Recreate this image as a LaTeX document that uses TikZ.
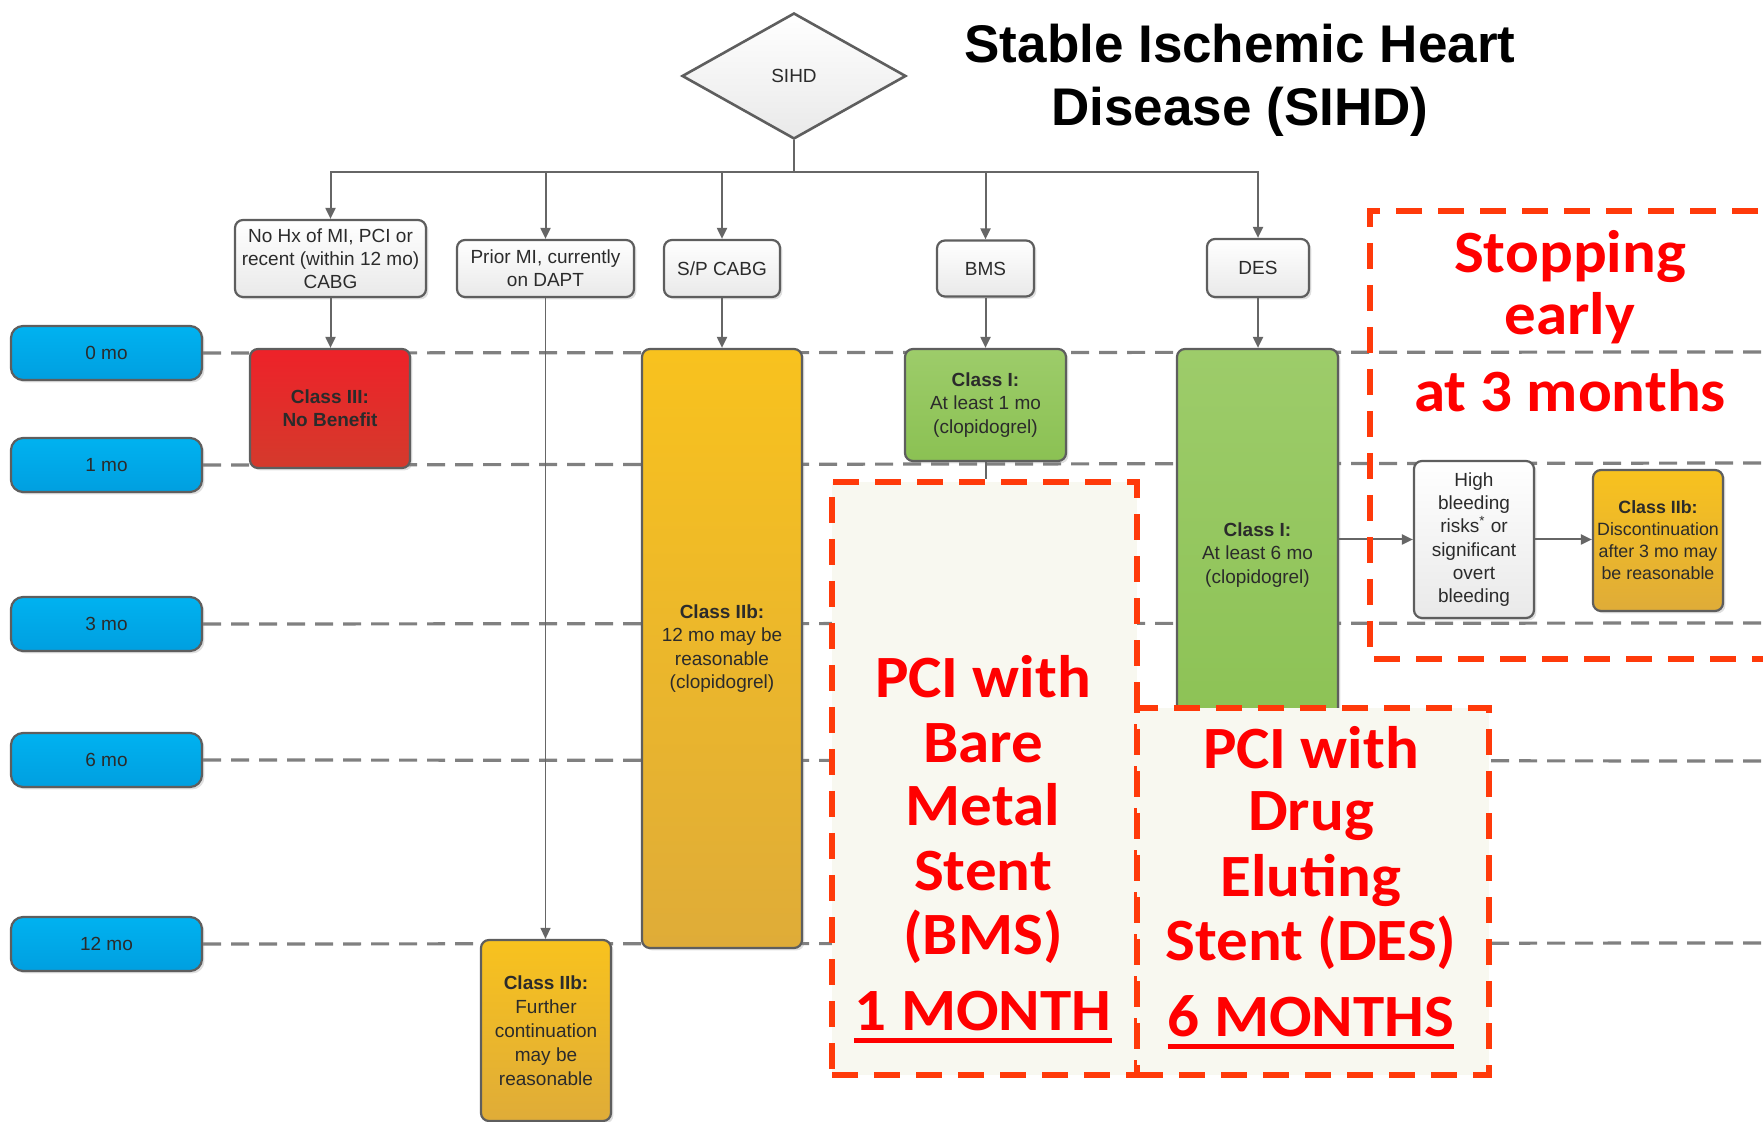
\documentclass[tikz,border=0pt]{standalone}
\usepackage{fontspec}
\setmainfont{Liberation Sans}
\newfontfamily\redfont[FakeStretch=1.05]{Carlito}
\usetikzlibrary{arrows.meta,shapes.geometric,shadows}
\definecolor{bord}{HTML}{5E5E5E}
\definecolor{txt}{HTML}{2B2B2B}
\definecolor{wbot}{HTML}{E9E9E9}
\definecolor{redtop}{HTML}{EE2229}
\definecolor{redbot}{HTML}{D43A2C}
\definecolor{yeltop}{HTML}{F8C21E}
\definecolor{yelbot}{HTML}{DFAC38}
\definecolor{grntop}{HTML}{9DCC6A}
\definecolor{grnbot}{HTML}{8BC153}
\definecolor{bluetop}{HTML}{00B2F0}
\definecolor{bluebot}{HTML}{009FE0}
\definecolor{gline}{HTML}{808080}
\definecolor{rdash}{HTML}{FF3A0A}
\definecolor{redtxt}{HTML}{FF0000}
\definecolor{pcifill}{HTML}{F8F8F0}
\definecolor{conn}{HTML}{666666}
\begin{document}
\begin{tikzpicture}[x=0.5pt,y=-0.5pt,
  box/.style={draw=bord, line width=1.1pt, rounded corners=4pt, inner sep=1pt,
    align=center, font=\fontsize{9.5}{11.6}\selectfont, text=txt,
    drop shadow={shadow xshift=1.2pt, shadow yshift=-1.2pt, opacity=0.25}},
  wbox/.style={box, top color=white, bottom color=wbot},
  rbox/.style={box, top color=redtop, bottom color=redbot},
  ybox/.style={box, top color=yeltop, bottom color=yelbot},
  gbox/.style={box, top color=grntop, bottom color=grnbot},
  tbox/.style={box, rounded corners=6pt, top color=bluetop, bottom color=bluebot,
    minimum width=95.5pt, minimum height=27pt},
  gdash/.style={draw=gline, line width=1.6pt, dash pattern=on 9pt off 5pt},
  rdashed/.style={draw=rdash, line width=2.6pt, dash pattern=on 13pt off 8pt},
  pcibox/.style={rdashed, fill=pcifill, inner sep=0pt},
  cline/.style={draw=conn, line width=1pt},
  arr/.style={cline, -{Triangle[length=5.5pt,width=5pt]}},
  rtxt/.style={anchor=base, text=redtxt, inner sep=0pt,
    font=\redfont\bfseries\fontsize{30}{32}\selectfont},
  uline/.style={draw=redtxt, line width=2.5pt}
]
\useasboundingbox (0,0) rectangle (1763,1122);
\clip (0,0) rectangle (1763,1122);

% title
\node[font=\bfseries\fontsize{26.5}{31.5}\selectfont, align=center, text=black]
  (title) at (1240,80) {Stable Ischemic Heart\\Disease (SIHD)};

% timeline labels
\node[tbox] (t0) at (106.5,353) {0 mo};
\node[tbox] (t1) at (106.5,465) {1 mo};
\node[tbox] (t3) at (106.5,624) {3 mo};
\node[tbox] (t6) at (106.5,760) {6 mo};
\node[tbox] (t12) at (106.5,944) {12 mo};
\coordinate (e0) at (1763,352);
\coordinate (e1) at (1763,463);
\coordinate (e3) at (1763,623);
\coordinate (e6) at (1763,761);
\coordinate (e12) at (1763,943);
\draw[gdash] (t0.east) -- (e0);
\draw[gdash] (t1.east) -- (e1);
\draw[gdash] (t3.east) -- (e3);
\draw[gdash] (t6.east) -- (e6);
\draw[gdash] (t12.east) -- (e12);

% diamond
\node[diamond, draw=bord, line width=1.3pt, top color=white, bottom color=wbot,
  minimum width=112pt, minimum height=63pt, inner sep=0pt,
  font=\fontsize{9.5}{11}\selectfont, text=txt] (sihd) at (794,76) {SIHD};

% category boxes
\node[wbox, minimum width=95.5pt, minimum height=38.5pt] (nohx) at (330.5,258.5)
  {No Hx of MI, PCI or\\recent (within 12 mo)\\CABG};
\node[wbox, minimum width=88.5pt, minimum height=28.5pt] (prior) at (545.5,268.5)
  {Prior MI, currently\\on DAPT};
\node[wbox, minimum width=58pt, minimum height=28.5pt] (cabg) at (722,268.5) {S/P CABG};
\node[wbox, minimum width=48.5pt, minimum height=28pt] (bms) at (985.5,268.5) {BMS};
\node[wbox, minimum width=51pt, minimum height=29pt] (des) at (1258,268) {DES};

% recommendation boxes
\node[rbox, minimum width=80pt, minimum height=59.5pt] (red) at (330,408.5)
  {\textbf{Class III:}\\\textbf{No Benefit}};
\node[ybox, minimum width=80pt, minimum height=299.5pt] (ycabg) at (722,648.5)
  {\textbf{Class IIb:}\\12 mo may be\\reasonable\\(clopidogrel)};
\node[ybox, minimum width=65pt, minimum height=90.5pt, font=\fontsize{9.5}{12}\selectfont] (yprior) at (546,1030.5)
  {\textbf{Class IIb:}\\Further\\continuation\\may be\\reasonable};
\node[gbox, minimum width=80.5pt, minimum height=56pt] (gbms) at (985.5,405)
  {\textbf{Class I:}\\At least 1 mo\\(clopidogrel)};
\node[gbox, minimum width=80.5pt, minimum height=206pt] (gdes) at (1257.5,555)
  {\textbf{Class I:}\\At least 6 mo\\(clopidogrel)};
\node[wbox, minimum width=60pt, minimum height=78.5pt] (bleed) at (1474,539.5)
  {High\\bleeding\\risks\textsuperscript{*} or\\significant\\overt\\bleeding};
\node[ybox, minimum width=65pt, minimum height=70.5pt, inner sep=0pt,
  font=\fontsize{8.9}{11}\selectfont] (disc) at (1658,540.5)
  {\textbf{Class IIb:}\\Discontinuation\\after 3 mo may\\be reasonable};

% connectors
\coordinate (bus) at (794,172);
\draw[cline] (sihd.south) -- (bus);
\draw[arr] (bus) -| (nohx.north);
\draw[arr] (bus) -| (prior.north);
\draw[arr] (bus) -| (cabg.north);
\draw[arr] (bus) -| (bms.north);
\draw[arr] (bus) -| (des.north);
\draw[arr] (nohx.south) -- (nohx.south |- red.north);
\draw[arr] (cabg.south) -- (cabg.south |- ycabg.north);
\draw[arr] (bms.south) -- (bms.south |- gbms.north);
\draw[arr] (des.south) -- (des.south |- gdes.north);
\draw[arr, line width=0.6pt] (prior.south) -- (prior.south |- yprior.north);
\draw[arr] (bleed.west -| gdes.east) -- (bleed.west);
\draw[arr] (bleed.east) -- (bleed.east -| disc.west);

% PCI boxes
\node[pcibox, minimum width=152.5pt, minimum height=296.5pt] (pcibms) at (984.5,778.5) {};
\draw[cline] (gbms.south) -- (gbms.south |- pcibms.north);
\node[pcibox, minimum width=176pt, minimum height=183.5pt] (pcides) at (1313,891.5) {};
\draw[rdashed] (1800,211) -- (1370,211) -- (1370,659) -- (1800,659);

% red texts
\node[rtxt] (s1) at (1570,273) {Stopping};
\node[rtxt] (s2) at (1570,335) {early};
\node[rtxt] (s3) at (1570,412) {at 3 months};

\node[rtxt] (b1) at (983,698) {PCI with};
\node[rtxt] (b2) at (983,763) {Bare};
\node[rtxt] (b3) at (983,826) {Metal};
\node[rtxt] (b4) at (983,891) {Stent};
\node[rtxt] (b5) at (983,954) {(BMS)};
\node[rtxt] (b6) at (983,1030) {1 MONTH};
\draw[uline] ([yshift=-5pt]b6.base west) -- ([yshift=-5pt]b6.base east);

\node[rtxt] (d1) at (1311,769) {PCI with};
\node[rtxt] (d2) at (1311,831) {Drug};
\node[rtxt] (d3) at (1311,897) {Eluting};
\node[rtxt] (d4) at (1311,960) {Stent (DES)};
\node[rtxt] (d5) at (1311,1036) {6 MONTHS};
\draw[uline] ([yshift=-5pt]d5.base west) -- ([yshift=-5pt]d5.base east);
\end{tikzpicture}
\end{document}
